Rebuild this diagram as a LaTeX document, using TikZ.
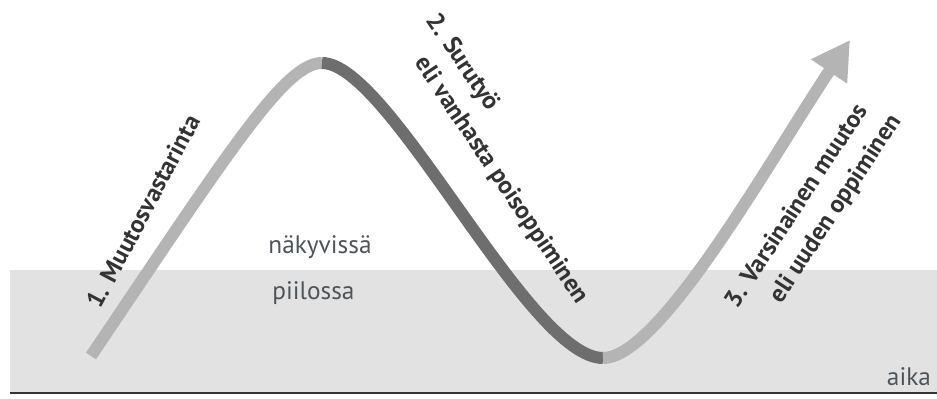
\documentclass[tikz,border=0pt]{standalone}
\usepackage{fontspec}
\setmainfont{PT Sans}
\usetikzlibrary{arrows.meta}
\definecolor{waveL}{HTML}{B4B4B4}
\definecolor{waveD}{HTML}{6E6E6E}
\definecolor{bandG}{HTML}{E2E2E2}
\definecolor{ink}{HTML}{333333}
\definecolor{zone}{HTML}{4E555A}

\tikzset{
  wave/.style={line width=0.2cm},
  phase/.style={ink,font=\bfseries\fontsize{11.8}{16}\selectfont,align=left,inner sep=0pt},
  zonelabel/.style={zone,font=\fontsize{12}{14}\selectfont,anchor=base west,inner sep=0pt}
}

\begin{document}
\begin{tikzpicture}
\useasboundingbox (0,0) rectangle (15.617,6.65);
% visible / hidden
\fill[bandG] (0.167,0.1) rectangle (15.617,2.15);
\coordinate (axisL) at (0.167,0.1);
\coordinate (axisR) at (15.617,0.1);
\draw[line width=0.035cm,ink] (axisL) -- (axisR);
\node[zone,font=\fontsize{12}{14}\selectfont,inner sep=0pt] (aika) at (15.15,0.38) {aika};
\node[zonelabel] (nak) at (4.467,2.417) {näkyvissä};
\node[zonelabel] (pii) at (4.533,1.65) {piilossa};

% the wave
\coordinate (start) at (1.517,0.717);
\coordinate (peak) at (5.367,5.6);
\coordinate (trough) at (10.05,0.683);
\coordinate (tip) at (14.167,5.983);
\draw[wave,waveL] (start) .. controls (3.833,4.15) and (4.75,5.6) .. (peak);
\draw[wave,waveD] (peak) .. controls (6.5,5.6) and (8.8,0.683) .. (trough);
\draw[wave,waveL,-{Triangle[width=0.68cm,length=0.63cm]}] (trough) .. controls (11,0.683) and (12.83,3.98) .. (tip);

% phases
\node[phase,rotate=62] (ph1) at (2.39,3.13) {1. Muutosvastarinta};
\node[phase,rotate=-56] (ph2) at (8.45,4.0) {2. Surutyö\\\hphantom{2. }eli vanhasta poisoppiminen};
\node[phase,rotate=56.7] (ph3) at (13.57,3.12) {3. Varsinainen muutos\\\hphantom{3. }eli uuden oppiminen};
\end{tikzpicture}
\end{document}
